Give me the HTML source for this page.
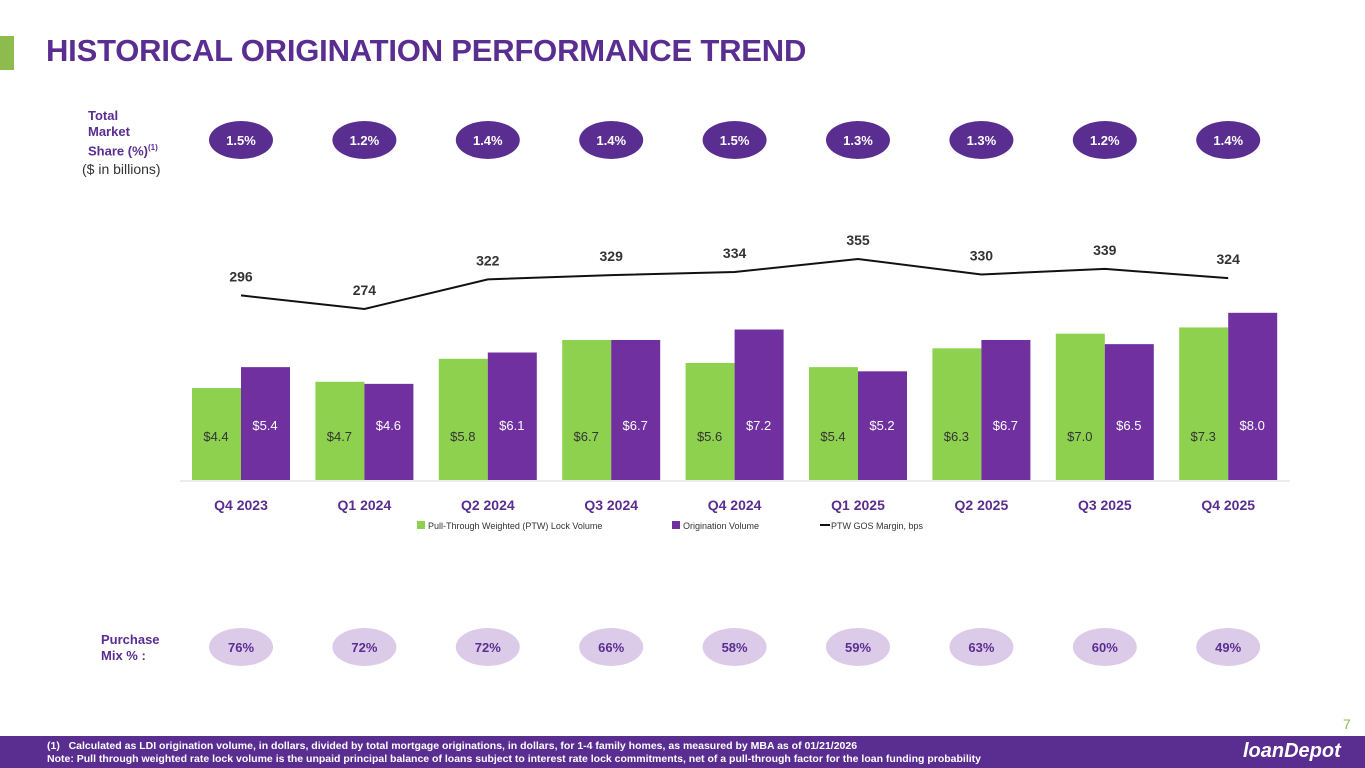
<!DOCTYPE html>
<html><head><meta charset="utf-8"><style>
body{margin:0;width:1365px;height:768px;overflow:hidden;background:#fff;font-family:"Liberation Sans",sans-serif;position:relative}
.abs{position:absolute}
</style></head><body>
<div class="abs" style="left:0;top:36px;width:14px;height:34px;background:#8dbb4e"></div>
<div class="abs" style="left:46px;top:33px;font-size:31px;font-weight:bold;color:#5a2d91;letter-spacing:-0.2px">HISTORICAL ORIGINATION PERFORMANCE TREND</div>
<div class="abs" style="left:88px;top:108px;font-size:13px;font-weight:bold;color:#5a2d91;line-height:16px">Total<br>Market<br>Share (%)<sup style="font-size:8px">(1)</sup></div>
<div class="abs" style="left:82px;top:161px;font-size:14px;color:#333">($ in billions)</div>
<div class="abs" style="left:101px;top:632px;font-size:13px;font-weight:bold;color:#5a2d91;line-height:16px">Purchase<br>Mix % :</div>
<div class="abs" style="left:1343px;top:716px;font-size:14px;color:#8dbb4e">7</div>
<div class="abs" style="left:0;top:736px;width:1365px;height:32px;background:#5a2d91;color:#fff;font-size:10.5px;font-weight:bold">
<div style="position:absolute;left:47px;top:4px;white-space:nowrap">(1)&nbsp;&nbsp; Calculated as LDI origination volume, in dollars, divided by total mortgage originations, in dollars, for 1-4 family homes, as measured by MBA as of 01/21/2026</div>
<div style="position:absolute;left:47px;top:17px;white-space:nowrap">Note: Pull through weighted rate lock volume is the unpaid principal balance of loans subject to interest rate lock commitments, net of a pull-through factor for the loan funding probability</div>
<div style="position:absolute;left:1243px;top:4px;font-size:20px;font-style:italic;font-weight:bold">loanDepot</div>
</div>
<svg class="abs" style="left:0;top:0" width="1365" height="768" id="chart"></svg>
<script>
const categories=["Q4 2023","Q1 2024","Q2 2024","Q3 2024","Q4 2024","Q1 2025","Q2 2025","Q3 2025","Q4 2025"];
const lockVolume=[4.4,4.7,5.8,6.7,5.6,5.4,6.3,7.0,7.3];
const originationVolume=[5.4,4.6,6.1,6.7,7.2,5.2,6.7,6.5,8.0];
const gosMargin=[296,274,322,329,334,355,330,339,324];
const marketShare=["1.5%","1.2%","1.4%","1.4%","1.5%","1.3%","1.3%","1.2%","1.4%"];
const purchaseMix=["76%","72%","72%","66%","58%","59%","63%","60%","49%"];
const NS="http://www.w3.org/2000/svg";
const svg=document.getElementById('chart');
const xC=i=>242+i*123.4;
const yB=v=>480-v*20.9;
const yL=v=>309-(v-274)*0.617;
function mk(t,a,txt){const e=document.createElementNS(NS,t);for(const k in a)e.setAttribute(k,a[k]);if(txt!==undefined)e.textContent=txt;svg.appendChild(e);return e;}
const ax=mk('line',{x1:180,x2:1290,y1:481,y2:481,stroke:'#d9d9d9','stroke-width':1});


categories.forEach((c,i)=>{
 const cx=xC(i);
 const g=mk('rect',{x:cx-50,y:yB(lockVolume[i]),width:49,height:480-yB(lockVolume[i]),fill:'#8dd14f'});
 
 
 const p=mk('rect',{x:cx-1,y:yB(originationVolume[i]),width:49,height:480-yB(originationVolume[i]),fill:'#7030a0'});
 
 
 const gl=mk('text',{x:cx-26,y:441,'text-anchor':'middle','font-size':13,fill:'#333'},'$'+lockVolume[i].toFixed(1));
 
 
 const ol=mk('text',{x:cx+23,y:430,'text-anchor':'middle','font-size':13,fill:'#fff'},'$'+originationVolume[i].toFixed(1));
 
 
 const cl=mk('text',{x:cx-1,y:510,'text-anchor':'middle','font-size':14,'font-weight':'bold',fill:'#5a2d91'},c);
 
 
 const ml=mk('text',{x:cx-1,y:yL(gosMargin[i])-14,'text-anchor':'middle','font-size':14,'font-weight':'bold',fill:'#333'},gosMargin[i]);
 
 
 const e1=mk('ellipse',{cx:cx-1,cy:140,rx:32,ry:19,fill:'#5a2d91'});
 
 
 const t1=mk('text',{x:cx-1,y:145,'text-anchor':'middle','font-size':13,'font-weight':'bold',fill:'#fff'},marketShare[i]);
 
 
 const e2=mk('ellipse',{cx:cx-1,cy:647,rx:32,ry:19,fill:'#dccbe8'});
 
 
 const t2=mk('text',{x:cx-1,y:652,'text-anchor':'middle','font-size':13,'font-weight':'bold',fill:'#5a2d91'},purchaseMix[i]);
 
 
});
const pts=gosMargin.map((v,i)=>(xC(i)-1)+','+yL(v)).join(' ');
const ln=mk('polyline',{points:pts,fill:'none',stroke:'#111','stroke-width':2});


const leg=[['rect',417,'#8dd14f','Pull-Through Weighted (PTW) Lock Volume'],['rect',672,'#7030a0','Origination Volume'],['line',820,'#111','PTW GOS Margin, bps']];
leg.forEach(l=>{
 let m;
 if(l[0]==='rect')m=mk('rect',{x:l[1],y:521,width:8,height:8,fill:l[2]});
 else m=mk('line',{x1:l[1],x2:l[1]+10,y1:525,y2:525,stroke:l[2],'stroke-width':2});
 
 
 const t=mk('text',{x:l[1]+11,y:529,'font-size':9,fill:'#333'},l[3]);
 
 
});
</script>
</body></html>
